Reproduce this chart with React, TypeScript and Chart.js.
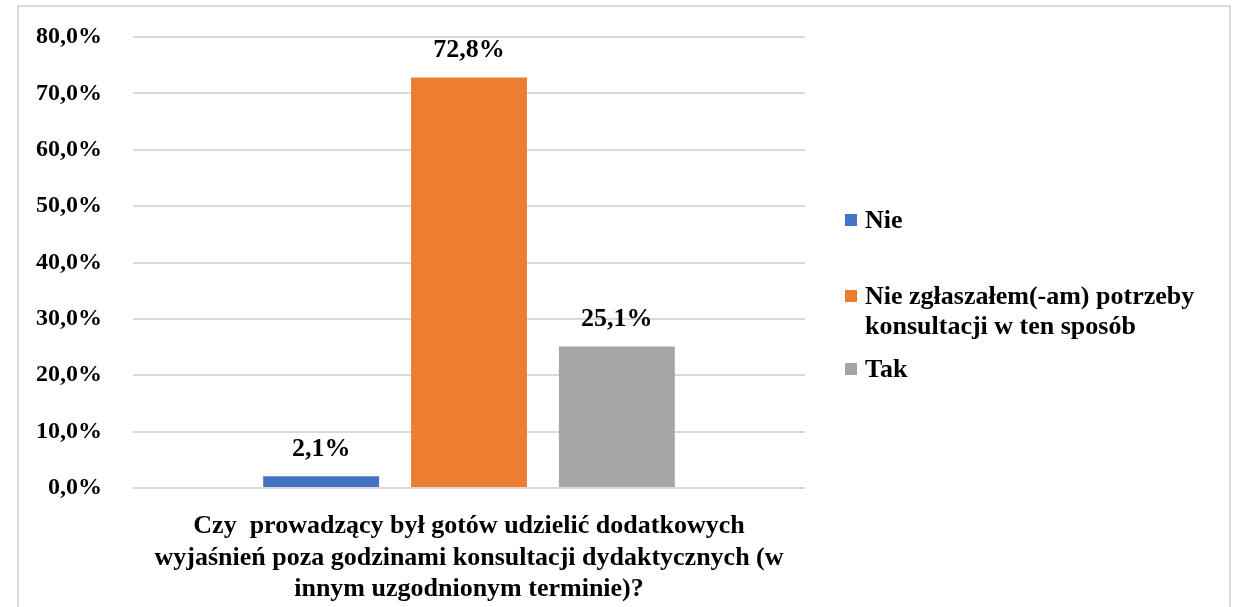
import React, { useEffect, useRef } from "react";
import { Chart, registerables } from "chart.js";

Chart.register(...registerables);

const categoryLines = [
  "Czy  prowadzący był gotów udzielić dodatkowych",
  "wyjaśnień poza godzinami konsultacji dydaktycznych (w",
  "innym uzgodnionym terminie)?",
];
const seriesLabels = ["Nie", "Nie zgłaszałem(-am) potrzeby konsultacji w ten sposób", "Tak"];
const seriesValues = [2.1, 72.8, 25.1];
const seriesColors = ["#4472C4", "#ED7D31", "#A5A5A5"];
const yTicks = { min: 0, max: 80, step: 10 };

const FONT = "'Liberation Serif', 'Times New Roman', serif";
const fmt = (v: number) => v.toFixed(1).replace(".", ",") + "%";

const dataLabelPlugin = {
  id: "dataLabels",
  afterDatasetsDraw(chart: any) {
    const ctx = chart.ctx;
    ctx.save();
    ctx.font = `bold 26px ${FONT}`;
    ctx.fillStyle = "#000";
    ctx.textAlign = "center";
    ctx.textBaseline = "middle";
    chart.data.datasets.forEach((ds: any, i: number) => {
      const meta = chart.getDatasetMeta(i);
      meta.data.forEach((bar: any, j: number) => {
        ctx.fillText(fmt(ds.data[j]), bar.x, bar.y - 27);
      });
    });
    ctx.restore();
  },
};

const legendPlugin = {
  id: "sideLegend",
  afterDraw(chart: any) {
    const ctx = chart.ctx;
    const area = chart.chartArea;
    const boxX = area.right + 40;
    const textX = boxX + 20;
    const maxW = 350;
    const firstLineY = [221, 297, 370];
    const lineH = 30;
    ctx.save();
    ctx.font = `bold 26px ${FONT}`;
    ctx.textAlign = "left";
    ctx.textBaseline = "middle";
    chart.data.datasets.forEach((ds: any, i: number) => {
      const words = String(ds.label).split(" ");
      const lines: string[] = [];
      let cur = "";
      words.forEach((w) => {
        const t = cur ? cur + " " + w : w;
        if (ctx.measureText(t).width > maxW && cur) {
          lines.push(cur);
          cur = w;
        } else cur = t;
      });
      if (cur) lines.push(cur);
      const y0 = firstLineY[i];
      ctx.fillStyle = ds.backgroundColor;
      ctx.fillRect(boxX, y0 - 7, 12, 12);
      ctx.fillStyle = "#000";
      lines.forEach((l, k) => ctx.fillText(l, textX, y0 + k * lineH));
    });
    ctx.restore();
  },
};

export default function App() {
  const ref = useRef<HTMLCanvasElement>(null);
  useEffect(() => {
    if (!ref.current) return;
    const chart = new Chart(ref.current, {
      type: "bar",
      data: {
        labels: [categoryLines],
        datasets: seriesLabels.map((label, i) => ({
          label,
          data: [seriesValues[i]],
          backgroundColor: seriesColors[i],
          categoryPercentage: 0.66,
          barPercentage: 0.784,
        })),
      },
      options: {
        responsive: false,
        animation: false,
        layout: { padding: { top: 37, right: 431, bottom: 0, left: 0 } },
        plugins: { legend: { display: false }, tooltip: { enabled: false } },
        scales: {
          x: {
            grid: { display: false },
            border: { display: false },
            ticks: {
              color: "#000",
              padding: 15,
              maxRotation: 0,
              font: { family: FONT, size: 26, weight: "bold", lineHeight: 1.2 },
            },
            afterFit: (s: any) => {
              s.height = 119;
            },
          },
          y: {
            min: yTicks.min,
            max: yTicks.max,
            grid: { color: "#d9d9d9", lineWidth: 2, drawTicks: false },
            border: { display: false },
            ticks: {
              stepSize: yTicks.step,
              color: "#000",
              padding: 31,
              font: { family: FONT, size: 24, weight: "bold" },
              callback: (v: any) => fmt(Number(v)),
            },
            afterFit: (s: any) => {
              s.width = 133;
              s.paddingTop = 0;
              s.paddingBottom = 0;
            },
          },
        },
      },
      plugins: [dataLabelPlugin, legendPlugin],
    });
    return () => chart.destroy();
  }, []);
  return (
    <div
      style={{
        position: "fixed",
        left: 0,
        top: 0,
        width: 1236,
        height: 607,
        overflow: "hidden",
        background: "#fff",
      }}
    >
      <div
        style={{
          position: "absolute",
          left: 17,
          top: 5,
          width: 1214,
          height: 700,
          boxSizing: "border-box",
          border: "2px solid #d9d9d9",
        }}
      />
      <canvas
        ref={ref}
        width={1236}
        height={607}
        style={{ position: "absolute", left: 0, top: 0, width: 1236, height: 607 }}
      />
    </div>
  );
}
